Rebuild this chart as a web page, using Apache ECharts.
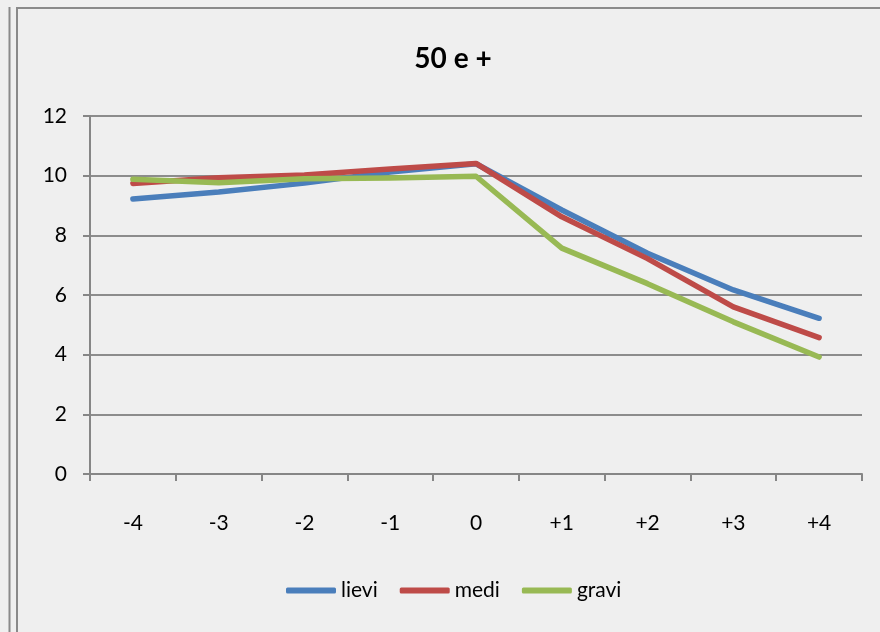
<!DOCTYPE html>
<html><head><meta charset="utf-8">
<script src="https://cdn.jsdelivr.net/npm/echarts@6/dist/echarts.min.js"></script>
<style>html,body{margin:0;padding:0;background:#efefef}#c{width:880px;height:632px}</style>
</head><body><div id="c"></div>
<script>
var categories = ['-4','-3','-2','-1','0','+1','+2','+3','+4'];
var lievi = [9.22, 9.45, 9.75, 10.12, 10.4, 8.85, 7.4, 6.17, 5.22];
var medi  = [9.74, 9.93, 10.02, 10.22, 10.41, 8.62, 7.22, 5.6, 4.57];
var gravi = [9.88, 9.76, 9.9, 9.92, 9.98, 7.57, 6.38, 5.1, 3.92];
var yTicks = [0, 2, 4, 6, 8, 10, 12];
var chart = echarts.init(document.getElementById('c'));
var font = 'Lato, "Open Sans", sans-serif';
chart.setOption({
  backgroundColor: '#efefef',
  animation: false,
  title: {text: '50 e +', left: 448, top: 40, textAlign: 'center',
    textStyle: {fontFamily: font, fontSize: 28, fontWeight: 'bold', color: '#000'}},
  graphic: [
    {type: 'line', shape: {x1: 9.5, y1: 7, x2: 9.5, y2: 632}, style: {stroke: '#8a8a8a', lineWidth: 2}},
    {type: 'rect', shape: {x: 17, y: 8, width: 880, height: 640}, style: {fill: null, stroke: '#8a8a8a', lineWidth: 2}}
  ],
  grid: {left: 90, right: 18, top: 116, bottom: 158},
  legend: {bottom: 26, left: 281, itemWidth: 50, itemHeight: 6, itemGap: 22, icon: 'roundRect',
    textStyle: {fontFamily: font, fontSize: 21, color: '#000'},
    data: ['lievi','medi','gravi']},
  xAxis: {type: 'category', data: categories, boundaryGap: true,
    axisLine: {lineStyle: {color: '#868686', width: 2}},
    axisTick: {show: true, length: 7, lineStyle: {color: '#868686', width: 2}},
    axisLabel: {fontFamily: font, fontSize: 21, color: '#000', margin: 39}},
  yAxis: {type: 'value', min: 0, max: 12, interval: 2,
    axisLine: {show: true, lineStyle: {color: '#868686', width: 2}},
    axisTick: {show: true, length: 7, lineStyle: {color: '#868686', width: 2}},
    splitLine: {lineStyle: {color: '#8c8c8c', width: 2}},
    axisLabel: {fontFamily: font, fontSize: 21, color: '#000', margin: 23,
      formatter: function(v){ return yTicks.indexOf(v) >= 0 ? String(v) : ''; }}},
  series: [
    {name: 'lievi', type: 'line', data: lievi, showSymbol: false, symbol: 'none', color: '#4a7ebb', lineStyle: {width: 5.5, cap: 'round', join: 'round'}},
    {name: 'medi', type: 'line', data: medi, showSymbol: false, symbol: 'none', color: '#be4b48', lineStyle: {width: 5.5, cap: 'round', join: 'round'}},
    {name: 'gravi', type: 'line', data: gravi, showSymbol: false, symbol: 'none', color: '#98b954', lineStyle: {width: 5.5, cap: 'round', join: 'round'}}
  ]
});
</script></body></html>
